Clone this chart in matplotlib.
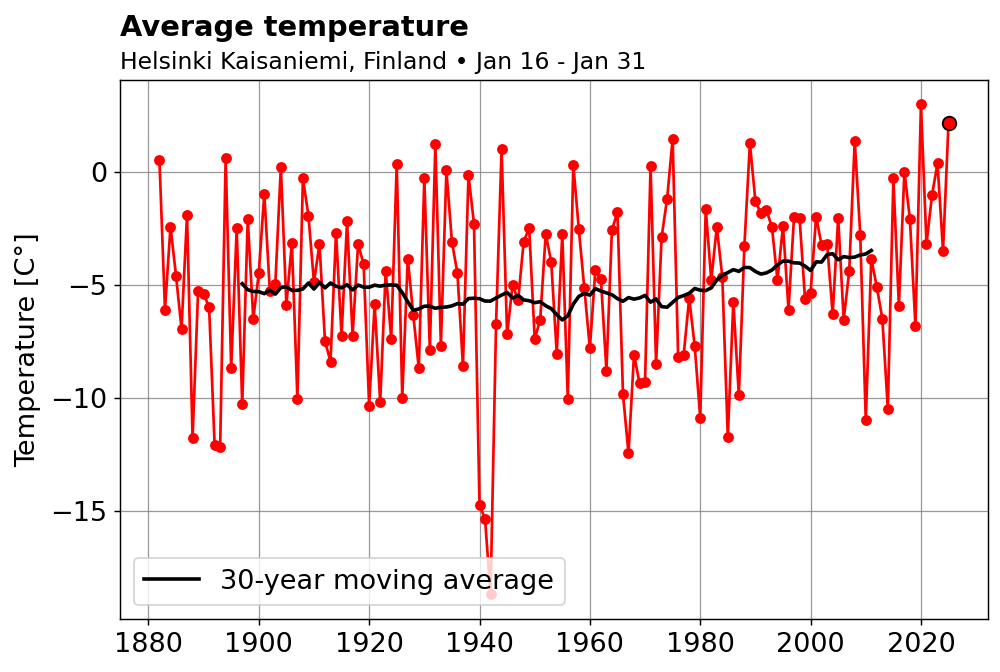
import numpy as np
import pandas as pd
from matplotlib import pyplot as plt

years = np.arange(1882, 2026)
temps = [
    0.5, -6.1, -2.43, -4.6, -6.95, -1.9, -11.8, -5.3, -5.4, -6.0,      # 1882-1891
    -12.1, -12.2, 0.6, -8.7, -2.5, -10.3, -2.1, -6.5, -4.5, -0.97,     # 1892-1901
    -5.27, -4.96, 0.22, -5.9, -3.14, -10.05, -0.3, -1.95, -4.9, -3.2,  # 1902-1911
    -7.5, -8.4, -2.7, -7.25, -2.2, -7.25, -3.2, -4.1, -10.35, -5.85,   # 1912-1921
    -10.2, -4.4, -7.4, 0.35, -10.0, -3.85, -6.35, -8.7, -0.3, -7.9,    # 1922-1931
    1.2, -7.7, 0.05, -3.1, -4.5, -8.6, -0.15, -2.3, -14.75, -15.35,    # 1932-1941
    -18.7, -6.75, 1.0, -7.2, -5.0, -5.7, -3.1, -2.5, -7.4, -6.55,      # 1942-1951
    -2.75, -4.0, -8.05, -2.75, -10.05, 0.3, -2.55, -5.15, -7.8, -4.35, # 1952-1961
    -4.75, -8.8, -2.57, -1.8, -9.85, -12.45, -8.1, -9.35, -9.3, 0.27,  # 1962-1971
    -8.5, -2.9, -1.2, 1.45, -8.2, -8.1, -5.6, -7.7, -10.9, -1.65,      # 1972-1981
    -4.8, -2.45, -4.65, -11.75, -5.75, -9.9, -3.3, 1.25, -1.3, -1.85,  # 1982-1991
    -1.7, -2.47, -4.8, -2.4, -6.1, -2.0, -2.05, -5.65, -5.35, -2.0,    # 1992-2001
    -3.25, -3.2, -6.3, -2.05, -6.55, -4.4, 1.37, -2.8, -11.0, -3.85,   # 2002-2011
    -5.1, -6.5, -10.5, -0.3, -5.95, 0.0, -2.1, -6.85, 2.97, -3.2,      # 2012-2021
    -1.05, 0.37, -3.5, 2.17,                                           # 2022-2025
]

series = pd.Series(temps, index=years)
moving = series.rolling(30, center=True).mean()

dpi = 130
fig, ax = plt.subplots(figsize=(1000 / dpi, 672 / dpi), dpi=dpi)
fig.subplots_adjust(left=0.12, right=0.988, top=0.881, bottom=0.079)

ax.plot(years, temps, color='red', lw=1.5, marker='o', markersize=5)
ax.plot(years[-1], temps[-1], marker='o', markersize=7.5, color='red',
        markeredgecolor='black', markeredgewidth=1.0, linestyle='none')
ax.plot(years, moving.values, color='black', lw=2,
        label='30-year moving average')

ax.grid(True, color='gray', lw=0.7, alpha=0.8)
ax.set_axisbelow(True)
ax.set_ylabel('Temperature [C°]', fontsize=15, labelpad=5)
ax.tick_params(labelsize=15)
ax.legend(loc='lower left', fontsize=15)

fig.text(0.12, 0.946, 'Average temperature', fontsize=16, fontweight='bold')
fig.text(0.12, 0.897, 'Helsinki Kaisaniemi, Finland \u2022 Jan 16 - Jan 31',
         fontsize=13)

fig.savefig('out.png', dpi=dpi)
